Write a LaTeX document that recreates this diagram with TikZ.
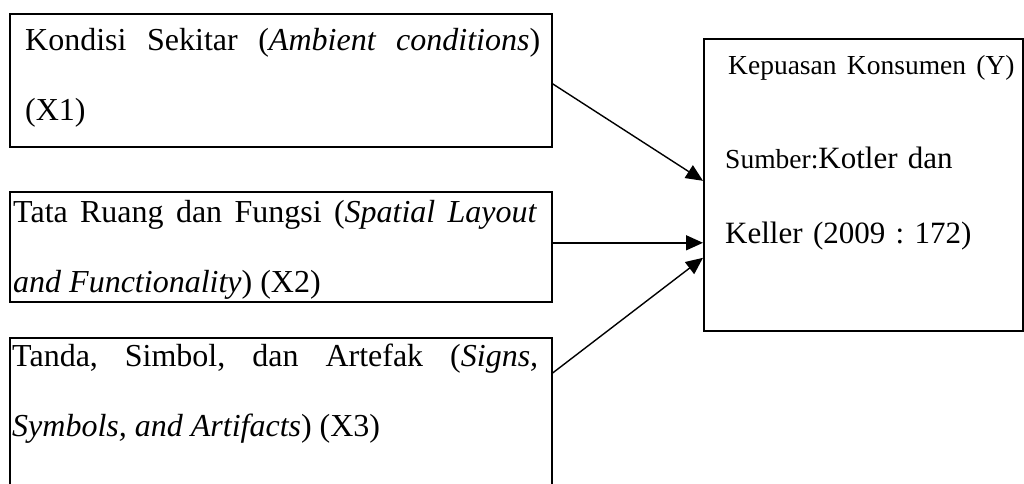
\documentclass[tikz,border=0pt]{standalone}
\usepackage{fontspec}
\setmainfont{Liberation Serif}
\usetikzlibrary{arrows.meta,positioning}
\hbadness=10000
\frenchspacing
\begin{document}
\begin{tikzpicture}[x=1pt,y=-1pt]
\tikzstyle{box}=[draw=black,line width=1.6pt,rectangle,inner sep=0pt,anchor=north west]
\tikzstyle{txt}=[inner sep=0pt,anchor=base west,align=justify,font=\fontsize{32}{70}\selectfont]
\tikzstyle{arrow}=[line width=1.4pt,-{Triangle[length=17pt,width=15pt]}]
\useasboundingbox (0,0) rectangle (1024,483);
\clip (0,0) rectangle (1024,483);
% boxes
\node [box,minimum width=542pt,minimum height=133pt] at (9,13) (x1) {};
\node [box,minimum width=542pt,minimum height=110pt] at (9,191) (x2) {};
\node [box,minimum width=542pt,minimum height=183pt] at (9,337) (x3) {};
\node [box,minimum width=319pt,minimum height=292pt] at (703,38) (y) {};
% texts
\node [txt,text width=515pt] at (25,50) (t1) {Kondisi Sekitar (\textit{Ambient conditions})\linebreak (X1)};
\node [txt,text width=524pt] at (13,222) (t2) {Tata Ruang dan Fungsi (\textit{Spatial Layout}\linebreak \textit{and Functionality}) (X2)};
\node [txt,text width=526pt] at (12,366) (t3) {Tanda, Simbol, dan Artefak (\textit{Signs,}\linebreak \textit{Symbols, and Artifacts}) (X3)};
\node [txt,text width=310pt,align=left,font=\fontsize{31}{75}\selectfont] at (725,74) (ty)
  {\hspace*{3pt}{\fontsize{27.5}{75}\selectfont Kepuasan Konsumen (Y)}\\[19pt]
   {\fontsize{27.5}{75}\selectfont Sumber:}Kotler dan\\
   Keller (2009 : 172)};
% arrows
\draw [arrow] ([yshift=-3.5pt]x1.east) -- ([yshift=4pt]y.west);
\draw [arrow] ([yshift=4pt]x2.east) -- ([yshift=-58pt]y.west);
\draw [arrow] ([yshift=-36pt]x3.north east) -- ([yshift=-73pt]y.west);
\end{tikzpicture}
\end{document}
